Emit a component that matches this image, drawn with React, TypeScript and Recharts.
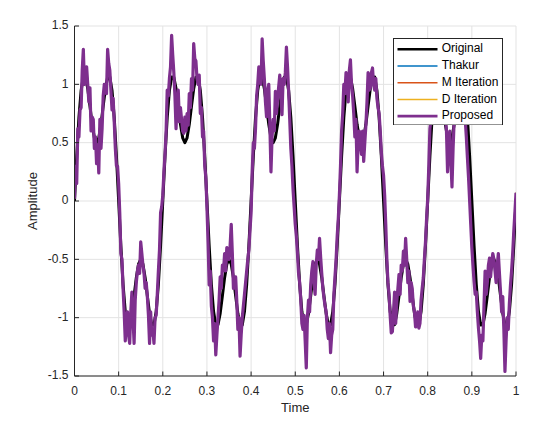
import React from 'react';
import { LineChart, Line, XAxis, YAxis, CartesianGrid, Legend } from 'recharts';

// ---- tick labels ----
const xTicks = [0, 0.1, 0.2, 0.3, 0.4, 0.5, 0.6, 0.7, 0.8, 0.9, 1];
const yTicks = [-1.5, -1, -0.5, 0, 0.5, 1, 1.5];

const originalValues = [
  0, 0.383, 0.714, 0.948, 1.063, 1.061, 0.963, 0.813, 0.657, 0.542, 0.5, 0.542, 0.657, 0.813, 0.963, 1.061, 1.063, 0.948, 0.714, 0.383,
  0, -0.383, -0.714, -0.948, -1.063, -1.061, -0.963, -0.813, -0.657, -0.542, -0.5, -0.542, -0.657, -0.813, -0.963, -1.061, -1.063, -0.948, -0.714, -0.383,
  0, 0.383, 0.714, 0.948, 1.063, 1.061, 0.963, 0.813, 0.657, 0.542, 0.5, 0.542, 0.657, 0.813, 0.963, 1.061, 1.063, 0.948, 0.714, 0.383,
  0, -0.383, -0.714, -0.948, -1.063, -1.061, -0.963, -0.813, -0.657, -0.542, -0.5, -0.542, -0.657, -0.813, -0.963, -1.061, -1.063, -0.948, -0.714, -0.383,
  0, 0.383, 0.714, 0.948, 1.063, 1.061, 0.963, 0.813, 0.657, 0.542, 0.5, 0.542, 0.657, 0.813, 0.963, 1.061, 1.063, 0.948, 0.714, 0.383,
  0, -0.383, -0.714, -0.948, -1.063, -1.061, -0.963, -0.813, -0.657, -0.542, -0.5, -0.542, -0.657, -0.813, -0.963, -1.061, -1.063, -0.948, -0.714, -0.383,
  0, 0.383, 0.714, 0.948, 1.063, 1.061, 0.963, 0.813, 0.657, 0.542, 0.5, 0.542, 0.657, 0.813, 0.963, 1.061, 1.063, 0.948, 0.714, 0.383,
  0, -0.383, -0.714, -0.948, -1.063, -1.061, -0.963, -0.813, -0.657, -0.542, -0.5, -0.542, -0.657, -0.813, -0.963, -1.061, -1.063, -0.948, -0.714, -0.383,
  0, 0.383, 0.714, 0.948, 1.063, 1.061, 0.963, 0.813, 0.657, 0.542, 0.5, 0.542, 0.657, 0.813, 0.963, 1.061, 1.063, 0.948, 0.714, 0.383,
  0, -0.383, -0.714, -0.948, -1.063, -1.061, -0.963, -0.813, -0.657, -0.542, -0.5, -0.542, -0.657, -0.813, -0.963, -1.061, -1.063, -0.948, -0.714, -0.383,
  0,
];

const proposedValues = [
  0.02, 0.3, 0.15, 0.62, 0.55, 0.78, 0.8, 1.12, 1.3, 1.0,
  1.05, 1.15, 1.0, 0.85, 0.97, 0.6, 0.72, 0.7, 0.45, 0.55,
  0.32, 0.48, 0.24, 0.7, 0.45, 0.62, 0.9, 1.0, 0.98, 0.92,
  1.3, 1.18, 1.12, 0.95, 0.78, 0.88, 0.68, 0.45, 0.3, 0.3,
  0.15, -0.1, -0.45, -0.5, -0.75, -0.95, -1.2, -1.0, -0.95, -1.15,
  -1.22, -0.95, -0.78, -1.0, -1.22, -0.85, -0.7, -0.6, -0.55, -0.62,
  -0.35, -0.45, -0.55, -0.62, -0.75, -0.7, -0.82, -0.98, -1.22, -0.95,
  -1.15, -1.1, -1.22, -1.0, -0.98, -0.8, -0.6, -0.42, -0.1, -0.05,
  0.05, 0.25, 0.4, 0.6, 0.95, 0.9, 1.05, 1.15, 1.42, 1.25,
  1.1, 0.9, 0.62, 0.85, 0.95, 0.68, 0.8, 0.7, 0.6, 0.58,
  0.72, 0.6, 0.75, 0.65, 0.92, 0.8, 1.05, 0.95, 1.35, 1.22,
  1.2, 1.05, 1.0, 1.08, 0.75, 0.8, 0.55, 0.6, 0.3, 0.2,
  -0.05, -0.35, -0.72, -0.6, -0.9, -1.0, -1.2, -1.05, -1.32, -1.15,
  -1.0, -0.85, -0.65, -0.75, -0.55, -0.6, -0.45, -0.6, -0.4, -0.45,
  -0.5, -0.38, -0.2, -0.45, -0.75, -0.7, -0.65, -0.85, -1.1, -1.0,
  -1.33, -1.15, -1.0, -0.9, -0.8, -0.7, -0.6, -0.5, -0.42, -0.25,
  -0.1, 0.25, 0.5, 0.45, 0.62, 0.9, 1.0, 1.15, 1.1, 1.0,
  1.39, 1.2, 1.05, 0.85, 0.72, 0.95, 1.0, 0.65, 0.25, 0.55,
  0.7, 0.6, 0.94, 0.75, 0.88, 0.98, 1.08, 0.9, 0.74, 1.05,
  1.0, 1.1, 1.32, 1.15, 0.94, 0.7, 0.45, 0.3, 0.1, -0.05,
  -0.2, -0.3, -0.45, -0.62, -0.7, -0.85, -1.05, -1.1, -0.98, -1.2,
  -1.43, -1.0, -0.85, -0.95, -0.72, -0.6, -0.52, -0.7, -0.8, -0.55,
  -0.42, -0.5, -0.32, -0.48, -0.62, -0.75, -0.83, -0.9, -0.95, -1.1,
  -1.18, -1.05, -1.3, -1.15, -1.1, -0.8, -0.65, -0.5, -0.3, -0.15,
  0.05, 0.3, 0.6, 0.75, 1.0, 0.92, 1.1, 1.05, 0.85, 1.12,
  1.21, 1.0, 0.9, 0.75, 0.55, 0.7, 0.25, 0.5, 0.6, 0.5,
  0.4, 0.6, 0.34, 0.5, 0.65, 0.85, 1.1, 0.95, 0.97, 1.1,
  1.14, 1.0, 0.95, 1.05, 0.88, 0.8, 0.75, 0.6, 0.42, 0.3,
  0.22, 0.05, -0.2, -0.5, -0.7, -0.8, -0.98, -1.13, -1.12, -0.95,
  -0.78, -1.05, -0.86, -0.75, -0.63, -0.8, -0.55, -0.6, -0.43, -0.55,
  -0.32, -0.5, -0.7, -0.6, -0.86, -0.7, -0.75, -0.9, -0.95, -1.08,
  -1.06, -0.95, -1.09, -1.05, -0.85, -0.75, -0.66, -0.5, -0.35, -0.15,
  0.02, 0.3, 0.62, 0.7, 0.85, 0.95, 1.05, 1.1, 1.2, 1.1,
  1.0, 1.15, 1.1, 0.9, 0.8, 0.95, 0.75, 0.6, 0.25, 0.45,
  0.6, 0.35, 0.12, 0.45, 0.7, 0.85, 1.0, 0.9, 1.15, 1.1,
  1.25, 1.1, 0.95, 0.85, 0.7, 0.55, 0.37, 0.2, 0.0, -0.2,
  -0.4, -0.55, -0.69, -0.8, -0.78, -0.95, -1.09, -1.2, -1.35, -1.15,
  -1.2, -0.9, -0.6, -0.8, -0.7, -0.55, -0.49, -0.65, -0.52, -0.45,
  -0.5, -0.6, -0.7, -0.55, -0.45, -0.62, -0.78, -0.95, -0.82, -1.1,
  -1.46, -1.2, -1.0, -1.1, -0.88, -0.72, -0.6, -0.45, -0.26, -0.1,
  0.07,
];

// The other estimates lie underneath the Proposed curve in the picture
const thakurValues = proposedValues;
const mIterationValues = proposedValues;
const dIterationValues = proposedValues;

const seriesNames = ['Original', 'Thakur', 'M Iteration', 'D Iteration', 'Proposed'];
const seriesColors = ['#000000', '#0072BD', '#D95319', '#EDB120', '#7E2F8E'];
const seriesWidths = [3, 1.5, 1.5, 1.5, 3.2];
const legendWidths = [2.6, 1.5, 1.5, 1.5, 2.6];

const toRows = (values: number[], step: number) =>
  values.map((v, i) => ({ t: +(i * step).toFixed(4), v }));

const seriesData = [
  toRows(originalValues, 0.005),
  toRows(thakurValues, 0.0025),
  toRows(mIterationValues, 0.0025),
  toRows(dIterationValues, 0.0025),
  toRows(proposedValues, 0.0025),
];

const FONT = '"Liberation Sans", Arial, Helvetica, sans-serif';
const AXIS_COLOR = '#262626';
const TICK_LEN = 4.5;

const fmt = (v: number) => String(v);

const BottomTick = (props: any) => {
  const { x, y, payload } = props;
  return (
    <g>
      <line x1={x} y1={y} x2={x} y2={y - TICK_LEN} stroke={AXIS_COLOR} strokeWidth={1} />
      <text x={x} y={y + 16} textAnchor="middle" dominantBaseline="middle" fontSize={12} fontFamily={FONT} fill={AXIS_COLOR}>
        {fmt(payload.value)}
      </text>
    </g>
  );
};

const TopTick = (props: any) => {
  const { x, y } = props;
  return <line x1={x} y1={y} x2={x} y2={y + TICK_LEN} stroke={AXIS_COLOR} strokeWidth={1} />;
};

const LeftTick = (props: any) => {
  const { x, y, payload } = props;
  return (
    <g>
      <line x1={x} y1={y} x2={x + TICK_LEN} y2={y} stroke={AXIS_COLOR} strokeWidth={1} />
      <text x={x - 6} y={y} textAnchor="end" dominantBaseline="middle" fontSize={12} fontFamily={FONT} fill={AXIS_COLOR}>
        {fmt(payload.value)}
      </text>
    </g>
  );
};

const RightTick = (props: any) => {
  const { x, y } = props;
  return <line x1={x} y1={y} x2={x - TICK_LEN} y2={y} stroke={AXIS_COLOR} strokeWidth={1} />;
};

const LEGEND_W = 110;
const LEGEND_H = 87.5;

const LegendBox = () => (
  <svg width={LEGEND_W} height={LEGEND_H} style={{ display: 'block' }}>
    <rect x={0.5} y={0.5} width={LEGEND_W - 1} height={LEGEND_H - 1} fill="#ffffff" stroke={AXIS_COLOR} strokeWidth={1} />
    {seriesNames.map((name, i) => {
      const cy = 11.3 + i * 16.7;
      return (
        <g key={name}>
          <line x1={4.5} y1={cy} x2={44.5} y2={cy} stroke={seriesColors[i]} strokeWidth={legendWidths[i]} />
          <text x={48.7} y={cy} dominantBaseline="middle" fontSize={12} fontFamily={FONT} fill="#000000">
            {name}
          </text>
        </g>
      );
    })}
  </svg>
);

export default function App() {
  return (
    <div style={{ width: 518, height: 407 }}>
      <LineChart width={518} height={407} margin={{ top: 18, right: 10, bottom: 0, left: 0 }}>
        <CartesianGrid stroke="#e3e3e3" strokeWidth={1} />
        <XAxis
          xAxisId={0}
          type="number"
          dataKey="t"
          domain={[0, 1]}
          ticks={xTicks}
          interval={0}
          allowDataOverflow
          height={39}
          tickSize={0}
          tickMargin={0}
          tickLine={false}
          axisLine={{ stroke: AXIS_COLOR, strokeWidth: 1 }}
          tick={<BottomTick />}
          label={(p: any) => {
            const vb = p.viewBox;
            return (
              <text x={vb.x + vb.width / 2} y={vb.y + 33} textAnchor="middle" dominantBaseline="middle" fontSize={13} fontFamily={FONT} fill={AXIS_COLOR}>
                Time
              </text>
            );
          }}
        />
        <XAxis
          xAxisId="top"
          orientation="top"
          type="number"
          dataKey="t"
          domain={[0, 1]}
          ticks={xTicks}
          interval={0}
          allowDataOverflow
          height={0}
          tickSize={0}
          tickMargin={0}
          tickLine={false}
          axisLine={{ stroke: AXIS_COLOR, strokeWidth: 1 }}
          tick={<TopTick />}
        />
        <YAxis
          yAxisId={0}
          type="number"
          domain={[-1.5, 1.5]}
          ticks={yTicks}
          interval={0}
          allowDataOverflow
          width={66.5}
          tickSize={0}
          tickMargin={0}
          tickLine={false}
          axisLine={{ stroke: AXIS_COLOR, strokeWidth: 1 }}
          tick={<LeftTick />}
          label={(p: any) => {
            const vb = p.viewBox;
            const cx = 26;
            const cy = vb.y + vb.height / 2;
            return (
              <text x={cx} y={cy} textAnchor="middle" dominantBaseline="middle" fontSize={13} fontFamily={FONT} fill={AXIS_COLOR} transform={`rotate(-90 ${cx} ${cy})`}>
                Amplitude
              </text>
            );
          }}
        />
        <YAxis
          yAxisId="right"
          orientation="right"
          type="number"
          domain={[-1.5, 1.5]}
          ticks={yTicks}
          interval={0}
          allowDataOverflow
          width={0}
          tickSize={0}
          tickMargin={0}
          tickLine={false}
          axisLine={{ stroke: AXIS_COLOR, strokeWidth: 1 }}
          tick={<RightTick />}
        />
        {seriesNames.map((name, i) => (
          <Line
            key={name}
            xAxisId={0}
            yAxisId={0}
            data={seriesData[i]}
            dataKey="v"
            name={name}
            type="linear"
            stroke={seriesColors[i]}
            strokeWidth={seriesWidths[i]}
            strokeLinejoin="round"
            dot={false}
            activeDot={false}
            isAnimationActive={false}
          />
        ))}
        <Legend
          layout="vertical"
          align="center"
          verticalAlign="middle"
          wrapperStyle={{ left: 385.3, top: 29.7, width: LEGEND_W, height: LEGEND_H }}
          content={() => <LegendBox />}
        />
      </LineChart>
    </div>
  );
}
